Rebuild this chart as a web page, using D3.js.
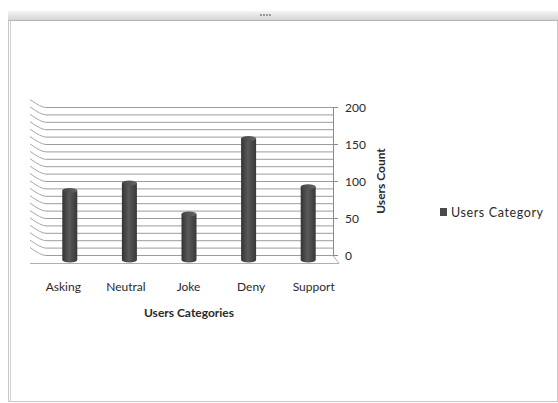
<!DOCTYPE html>
<html>
<head>
<meta charset="utf-8">
<script src="https://cdn.jsdelivr.net/npm/d3@7"></script>
<style>
  body { margin: 0; background: #fff; }
  text { font-family: Lato, "Open Sans", sans-serif; fill: #2a2a2a; }
</style>
</head>
<body>
<script>
// chart data
var categories = ["Asking", "Neutral", "Joke", "Deny", "Support"];
var values = [90, 100, 58, 160, 95];
var yTicks = [0, 50, 100, 150, 200];
var seriesName = "Users Category";

var W = 558, H = 403;

var svg = d3.select("body").append("svg")
    .attr("width", W).attr("height", H);

var defs = svg.append("defs");
var grad = defs.append("linearGradient").attr("id", "cyl")
    .attr("x1", "0").attr("x2", "1").attr("y1", "0").attr("y2", "0");
grad.append("stop").attr("offset", "0").attr("stop-color", "#333");
grad.append("stop").attr("offset", "0.45").attr("stop-color", "#5a5a5a");
grad.append("stop").attr("offset", "1").attr("stop-color", "#383838");
var barGrad = defs.append("linearGradient").attr("id", "bar-top")
    .attr("x1", "0").attr("x2", "1").attr("y1", "0").attr("y2", "0");
barGrad.append("stop").attr("offset", "0").attr("stop-color", "#444");
barGrad.append("stop").attr("offset", "1").attr("stop-color", "#666");
var topBar = defs.append("linearGradient").attr("id", "frame-top")
    .attr("x1", "0").attr("x2", "0").attr("y1", "0").attr("y2", "1");
topBar.append("stop").attr("offset", "0").attr("stop-color", "#f4f4f4");
topBar.append("stop").attr("offset", "1").attr("stop-color", "#d6d6d6");

// frame of the chart window
var frame = svg.append("g").attr("id", "frame");
frame.append("rect")
    .attr("x", 8.5).attr("y", 11.5).attr("width", W - 9).attr("height", H - 13)
    .attr("fill", "#fff").attr("stroke", "#c8c8c8");
frame.append("rect")
    .attr("x", 8).attr("y", 11).attr("width", W - 8).attr("height", 9)
    .attr("fill", "url(#frame-top)");
frame.append("line")
    .attr("x1", 8).attr("x2", W).attr("y1", 20.5).attr("y2", 20.5)
    .attr("stroke", "#b5b5b5");
frame.append("line")
    .attr("x1", 10.5).attr("x2", 10.5).attr("y1", 20).attr("y2", H - 2)
    .attr("stroke", "#d0d0d0");
// grip in the top bar
frame.selectAll("rect.grip").data([0, 1, 2, 3]).enter().append("rect")
    .attr("class", "grip")
    .attr("x", function(d) { return 260 + d * 3; })
    .attr("y", 14).attr("width", 2).attr("height", 2)
    .attr("fill", "#999");

// scales
var y = d3.scaleLinear().domain([0, 200]).range([255, 107]);
var xBar = d3.scaleBand().domain(categories).range([40, 338]).paddingInner(0);
var xLab = d3.scaleBand().domain(categories).range([32, 345]);

var wallLeft = 46, wallRight = 333, depthX = 16, depthY = 8;
var minor = d3.range(0, 201, 10);

// left wall and back wall gridlines
var grid = svg.append("g").attr("id", "grid");
grid.selectAll("path.side").data(minor).enter().append("path")
    .attr("class", "side")
    .attr("d", function(d) {
        var yy = y(d) + 0.5;
        return "M" + (wallLeft - depthX) + "," + (yy - depthY) +
            " Q" + (wallLeft - 5) + "," + (yy) + " " + wallLeft + "," + yy;
    })
    .attr("fill", "none").attr("stroke", "#a8a8a8");
grid.selectAll("line.back").data(minor).enter().append("line")
    .attr("class", "back")
    .attr("x1", wallLeft).attr("x2", wallRight)
    .attr("y1", function(d) { return y(d) + 0.5; })
    .attr("y2", function(d) { return y(d) + 0.5; })
    .attr("stroke", "#9c9c9c");
// floor front edge
grid.append("path")
    .attr("d", "M" + (wallLeft - depthX) + "," + 263.5 + " L" + (wallRight + 6) + ",263.5 L" +
        wallRight + "," + (y(0) + 0.5))
    .attr("fill", "none").attr("stroke", "#b0b0b0");

// right value axis
var axis = svg.append("g").attr("id", "axis");
axis.append("line")
    .attr("x1", wallRight + 0.5).attr("x2", wallRight + 0.5)
    .attr("y1", y(200)).attr("y2", y(0) + 1)
    .attr("stroke", "#8a8a8a");
axis.selectAll("line.tick").data(yTicks).enter().append("line")
    .attr("class", "tick")
    .attr("x1", wallRight).attr("x2", wallRight + 5)
    .attr("y1", function(d) { return y(d) + 0.5; })
    .attr("y2", function(d) { return y(d) + 0.5; })
    .attr("stroke", "#8a8a8a");
axis.selectAll("text").data(yTicks).enter().append("text")
    .attr("x", 345).attr("y", function(d) { return y(d) + 4.5; })
    .attr("font-size", 12)
    .text(function(d) { return d; });

// bars, drawn as cylinders
var bw = 15, ry = 2.5, base = 260;
var bars = svg.append("g").attr("id", "bars");
var bar = bars.selectAll("g").data(categories).enter().append("g");
bar.append("path")
    .attr("d", function(c, i) {
        var cx = xBar(c) + xBar.bandwidth() / 2, x0 = cx - bw / 2, x1 = cx + bw / 2;
        var top = y(values[i]) + 2;
        return "M" + x0 + "," + top + " L" + x0 + "," + base +
            " A" + (bw / 2) + "," + ry + " 0 0 0 " + x1 + "," + base +
            " L" + x1 + "," + top + " Z";
    })
    .attr("fill", "url(#cyl)");
bar.append("ellipse")
    .attr("cx", function(c) { return xBar(c) + xBar.bandwidth() / 2; })
    .attr("cy", function(c, i) { return y(values[i]) + 2; })
    .attr("rx", bw / 2).attr("ry", ry)
    .attr("fill", "url(#bar-top)");

// category labels
svg.append("g").attr("id", "xlabels")
    .selectAll("text").data(categories).enter().append("text")
    .attr("x", function(c) { return xLab(c) + xLab.bandwidth() / 2; })
    .attr("y", 291)
    .attr("text-anchor", "middle").attr("font-size", 12)
    .text(function(c) { return c; });

// axis titles
svg.append("text")
    .attr("x", 189).attr("y", 317)
    .attr("text-anchor", "middle").attr("font-size", 12).attr("font-weight", "bold")
    .text("Users Categories");
svg.append("text")
    .attr("transform", "translate(385,181) rotate(-90)")
    .attr("text-anchor", "middle").attr("font-size", 12).attr("font-weight", "bold")
    .text("Users Count");

// legend
var legend = svg.append("g").attr("id", "legend");
legend.append("rect")
    .attr("x", 440).attr("y", 208).attr("width", 7).attr("height", 8)
    .attr("fill", "#4a4a4a");
legend.append("text")
    .attr("x", 451).attr("y", 217).attr("font-size", 12.5)
    .attr("textLength", 92).attr("lengthAdjust", "spacing")
    .text(seriesName);
</script>
</body>
</html>
